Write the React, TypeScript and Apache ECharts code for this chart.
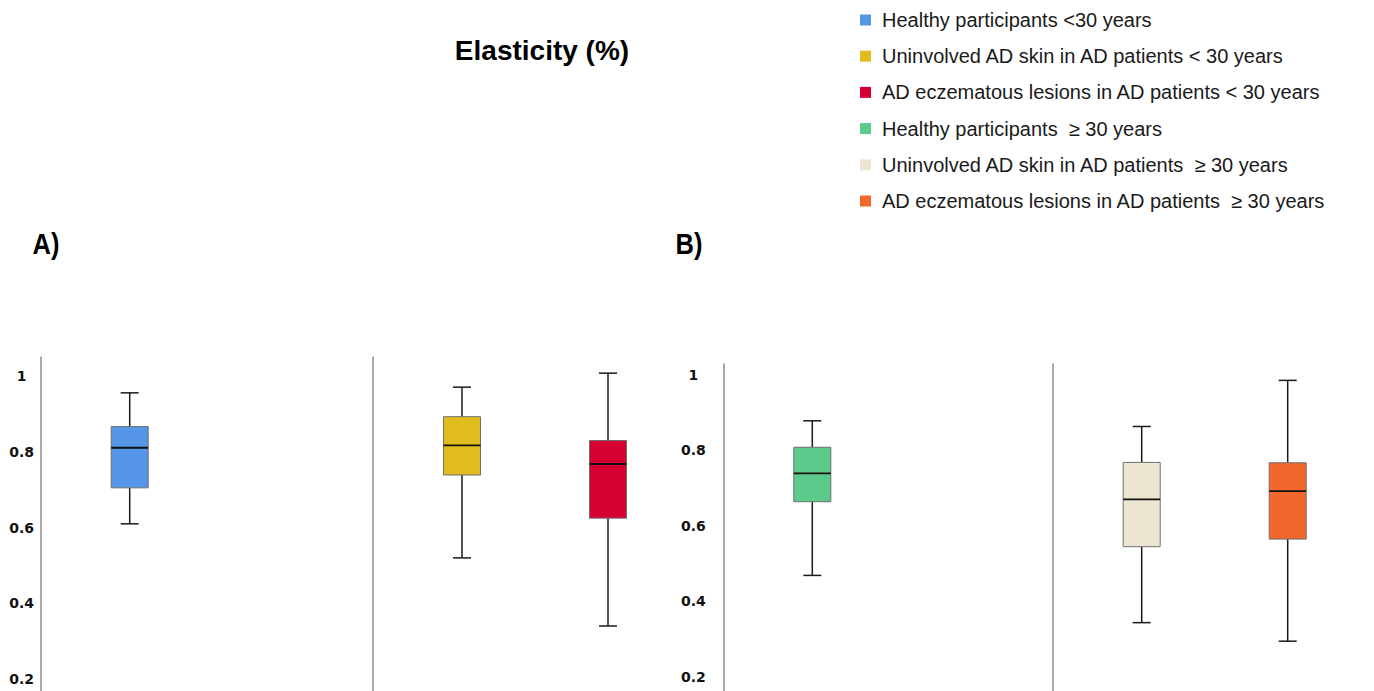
import React, { useEffect, useRef } from "react";
import * as echarts from "echarts";

// Legend / group names
const groupNames = [
  "Healthy participants <30 years",
  "Uninvolved AD skin in AD patients < 30 years",
  "AD eczematous lesions in AD patients < 30 years",
  "Healthy participants  \u2265 30 years",
  "Uninvolved AD skin in AD patients  \u2265 30 years",
  "AD eczematous lesions in AD patients  \u2265 30 years",
];
const groupColors = ["#5596e6", "#e1bc1f", "#d70033", "#5cca8a", "#ebe5d1", "#f2682c"];

// Box statistics: [min, Q1, median, Q3, max]
const healthyUnder30 = [0.61, 0.705, 0.811, 0.867, 0.956];
const uninvolvedUnder30 = [0.52, 0.739, 0.817, 0.893, 0.971];
const lesionsUnder30 = [0.34, 0.625, 0.768, 0.83, 1.008];
const healthyOver30 = [0.469, 0.664, 0.739, 0.808, 0.878];
const uninvolvedOver30 = [0.344, 0.545, 0.67, 0.768, 0.863];
const lesionsOver30 = [0.295, 0.565, 0.692, 0.767, 0.985];

// slot within each sub-panel (0 = first cluster position, 1 = second)
const slotLabels = ["slot 1", "slot 2"];
const groupSlots = [0, 0, 1, 0, 0, 1];
const groupGrid = [0, 1, 1, 2, 3, 3];
const groupStats = [healthyUnder30, uninvolvedUnder30, lesionsUnder30, healthyOver30, uninvolvedOver30, lesionsOver30];

const yTickValues = [0.2, 0.4, 0.6, 0.8, 1];

const titleText = "Elasticity (%)";
const panelLabels = ["A)", "B)"];

const BOX_W = 37;
const CAP_W = 18;

export default function App() {
  const ref = useRef<HTMLDivElement>(null);
  useEffect(() => {
    if (!ref.current) return;
    const chart = echarts.init(ref.current, undefined, { renderer: "svg" });

    const gridDefs = [
      { left: 56.7, top: 357, panel: 0 },
      { left: 389, top: 357, panel: 0 },
      { left: 739.3, top: 364, panel: 1 },
      { left: 1068.7, top: 364, panel: 1 },
    ];
    const yRange = [
      { min: 0.1683, max: 1.0507, margin: 19 },
      { min: 0.1632, max: 1.0283, margin: 30 },
    ];

    const grids = gridDefs.map((g) => ({ left: g.left, top: g.top, width: 292, bottom: 0 }));
    const xAxes = gridDefs.map((_, i) => ({
      type: "category",
      gridIndex: i,
      data: slotLabels,
      show: false,
      boundaryGap: true,
    }));
    const yAxes = gridDefs.map((g, i) => {
      const r = yRange[g.panel];
      const showLabels = i === 0 || i === 2;
      return {
        type: "value",
        gridIndex: i,
        min: r.min,
        max: r.max,
        offset: 16,
        position: "left",
        axisLine: { show: true, lineStyle: { color: "#8c8c8c", width: 1.5 } },
        axisTick: { show: false },
        splitLine: { show: false },
        axisLabel: {
          show: showLabels,
          customValues: yTickValues,
          margin: r.margin,
          align: "center",
          color: "#111",
          fontWeight: "bold",
          fontSize: 14,
          fontFamily: "DejaVu Sans",
          formatter: (v: number) => String(Math.round(v * 10) / 10),
        },
      };
    });

    const renderItem = (params: any, api: any) => {
      const x = api.value(0);
      const lo = api.coord([x, api.value(1)]);
      const q1 = api.coord([x, api.value(2)]);
      const md = api.coord([x, api.value(3)]);
      const q3 = api.coord([x, api.value(4)]);
      const hi = api.coord([x, api.value(5)]);
      const cx = lo[0];
      const hw = BOX_W / 2;
      const cw = CAP_W / 2;
      const color = api.visual("color");
      const wStyle = { stroke: "#1a1a1a", lineWidth: 1.5 };
      return {
        type: "group",
        children: [
          { type: "line", shape: { x1: cx, y1: hi[1], x2: cx, y2: q3[1] }, style: wStyle },
          { type: "line", shape: { x1: cx, y1: q1[1], x2: cx, y2: lo[1] }, style: wStyle },
          { type: "line", shape: { x1: cx - cw, y1: hi[1], x2: cx + cw, y2: hi[1] }, style: wStyle },
          { type: "line", shape: { x1: cx - cw, y1: lo[1], x2: cx + cw, y2: lo[1] }, style: wStyle },
          {
            type: "rect",
            shape: { x: cx - hw, y: q3[1], width: BOX_W, height: q1[1] - q3[1] },
            style: { fill: color, stroke: "#6e6e6e", lineWidth: 1 },
          },
          {
            type: "line",
            shape: { x1: cx - hw, y1: md[1], x2: cx + hw, y2: md[1] },
            style: { stroke: "#111", lineWidth: 1.8 },
          },
        ],
      };
    };

    const series = groupNames.map((name, i) => ({
      type: "custom",
      name,
      xAxisIndex: groupGrid[i],
      yAxisIndex: groupGrid[i],
      itemStyle: { color: groupColors[i] },
      renderItem,
      clip: false,
      encode: { x: 0, y: [1, 2, 3, 4, 5] },
      data: [[groupSlots[i], ...groupStats[i]]],
    }));

    const labelFont = "bold 30px 'Liberation Sans', Arial, sans-serif";

    chart.setOption({
      animation: false,
      backgroundColor: "#ffffff",
      grid: grids,
      xAxis: xAxes,
      yAxis: yAxes,
      legend: {
        orient: "vertical",
        left: 860,
        top: 10,
        padding: 0,
        itemWidth: 11,
        itemHeight: 11,
        itemGap: 16.2,
        selectedMode: false,
        icon: "rect",
        data: groupNames.map((n, i) => ({ name: n, itemStyle: { color: groupColors[i], borderWidth: 0 } })),
        textStyle: {
          fontSize: 20,
          lineHeight: 20,
          color: "#1a1a1a",
          fontFamily: "Liberation Sans, Arial, sans-serif",
          padding: [0, 0, 0, 6],
        },
      },
      graphic: [
        {
          type: "text",
          x: 542,
          y: 50,
          style: {
            text: titleText,
            fill: "#000",
            font: "bold 28px 'Liberation Sans', Arial, sans-serif",
            textAlign: "center",
            textVerticalAlign: "middle",
          },
        },
        {
          type: "text",
          x: 32.5,
          y: 244,
          scaleX: 0.85,
          style: {
            text: panelLabels[0],
            fill: "#000",
            font: labelFont,
            textAlign: "left",
            textVerticalAlign: "middle",
          },
        },
        {
          type: "text",
          x: 675.5,
          y: 244,
          scaleX: 0.85,
          style: {
            text: panelLabels[1],
            fill: "#000",
            font: labelFont,
            textAlign: "left",
            textVerticalAlign: "middle",
          },
        },
      ],
      series,
    });

    return () => chart.dispose();
  }, []);

  return (
    <div
      ref={ref}
      style={{ position: "absolute", left: 0, top: 0, width: 1374, height: 691, background: "#fff" }}
    />
  );
}
